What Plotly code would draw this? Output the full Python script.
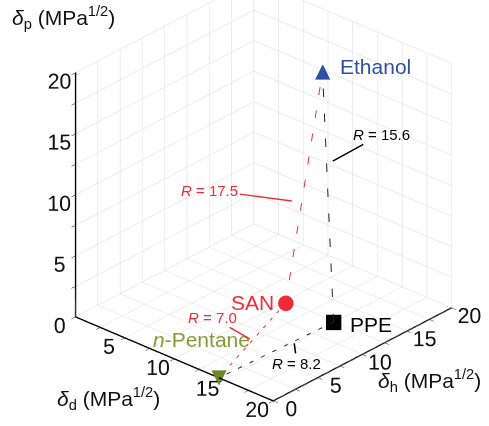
import plotly.graph_objects as go

# Hansen solubility parameters (MPa^1/2): x = delta_d, y = delta_h, z = delta_p
names = ["Ethanol", "SAN", "PPE", "n-Pentane"]
delta_d = [12.9, 13.5, 16.9, 14.5]
delta_h = [13.4, 8.6, 10.2, 0.0]
delta_p = [19.4, 2.5, 1.5, 0.0]

pairs = [("SAN", "Ethanol"), ("SAN", "n-Pentane"), ("PPE", "Ethanol"), ("PPE", "n-Pentane")]
r_values = ["17.5", "7.0", "15.6", "8.2"]

tick_vals = [0, 2.5, 5, 7.5, 10, 12.5, 15, 17.5, 20]
tick_text = ["0", "", "5", "", "10", "", "15", "", "20"]

blue = "#2f4fa5"
red = "#ef2b36"
olive = "#6b8a26"
olive_txt = "#879a36"
FONT = "Liberation Sans, Arial, Helvetica"

idx = {n: i for i, n in enumerate(names)}

fig = go.Figure()
line_colors = [red, red, "#222222", "#222222"]
for (a, b), col in zip(pairs, line_colors):
    ia, ib = idx[a], idx[b]
    fig.add_trace(go.Scatter3d(
        x=[delta_d[ia], delta_d[ib]], y=[delta_h[ia], delta_h[ib]], z=[delta_p[ia], delta_p[ib]],
        mode="lines", line=dict(color=col, width=2, dash="longdash"), showlegend=False, hoverinfo="skip"))

# markers (triangles are not available in 3D -> use glyphs)
i = idx["SAN"]
fig.add_trace(go.Scatter3d(x=[delta_d[i]], y=[delta_h[i]], z=[delta_p[i]], mode="markers",
                           marker=dict(symbol="circle", size=9, color=red, line=dict(width=0))))
i = idx["PPE"]
fig.add_trace(go.Scatter3d(x=[delta_d[i]], y=[delta_h[i]], z=[delta_p[i]], mode="markers",
                           marker=dict(symbol="square", size=8, color="black", line=dict(width=0))))
i = idx["Ethanol"]
fig.add_trace(go.Scatter3d(x=[delta_d[i]], y=[delta_h[i]], z=[delta_p[i]], mode="text", text=["▲"],
                           textposition="middle center",
                           textfont=dict(size=20, color=blue, family="DejaVu Sans")))
i = idx["n-Pentane"]
fig.add_trace(go.Scatter3d(x=[delta_d[i]], y=[delta_h[i]], z=[delta_p[i]], mode="text", text=["▼"],
                           textposition="middle center",
                           textfont=dict(size=20, color=olive, family="DejaVu Sans")))

# scene annotations: point names
scene_ann = []
label_specs = {
    "Ethanol": dict(text="Ethanol", color=blue, xanchor="left", xshift=15, yshift=5),
    "SAN": dict(text="SAN", color=red, xanchor="right", xshift=-10, yshift=1),
    "PPE": dict(text="PPE", color="black", xanchor="left", xshift=14, yshift=-2),
    "n-Pentane": dict(text="<i>n</i>-Pentane", color=olive_txt, xanchor="right", xshift=33, yshift=38),
}
for n, s in label_specs.items():
    i = idx[n]
    scene_ann.append(dict(x=delta_d[i], y=delta_h[i], z=delta_p[i], text=s["text"], showarrow=False,
                          xanchor=s["xanchor"], yanchor="middle", xshift=s["xshift"], yshift=s["yshift"],
                          font=dict(family=FONT, size=21, color=s["color"])))

# R labels with leader lines, anchored at a fraction along each connecting line
r_specs = [  # fraction from first point, ax, ay, standoff, colour
    (0.436, -92, -12, 10, red),
    (0.5, -40, -23, 3, red),
    (0.63, 55, -30, 7, "black"),
    (0.345, 3, 22, 2, "black"),
]
for (a, b), rv, (t, ax, ay, so, col) in zip(pairs, r_values, r_specs):
    ia, ib = idx[a], idx[b]
    px = delta_d[ia] + t * (delta_d[ib] - delta_d[ia])
    py = delta_h[ia] + t * (delta_h[ib] - delta_h[ia])
    pz = delta_p[ia] + t * (delta_p[ib] - delta_p[ia])
    scene_ann.append(dict(x=px, y=py, z=pz, text=f"<i>R</i> = {rv}", showarrow=True, arrowhead=0,
                          arrowwidth=1.5, arrowcolor=col, ax=ax, ay=ay, standoff=so,
                          font=dict(family=FONT, size=15, color=col)))

axis_common = dict(
    range=[0, 20], tickvals=tick_vals, ticktext=tick_text, autorange=False,
    showbackground=True, backgroundcolor="white", gridcolor="#d8d8d8", gridwidth=1,
    showline=True, linecolor="black", linewidth=3, ticks="outside", ticklen=6, tickangle=0,
    tickcolor="black", tickfont=dict(family=FONT, size=16, color="#111"),
    title=dict(text=""), showspikes=False, zeroline=False)

d = 1.6
fig.update_layout(
    width=489, height=426, margin=dict(l=0, r=0, t=0, b=0),
    paper_bgcolor="white", showlegend=False,
    scene=dict(
        xaxis=axis_common, yaxis=axis_common, zaxis=axis_common,
        aspectmode="manual", aspectratio=dict(x=1.25, y=1.25, z=1.3),
        camera=dict(eye=dict(x=0.568 * d, y=-0.713 * d, z=0.41 * d), up=dict(x=0, y=0, z=1),
                    center=dict(x=-0.07, y=-0.056, z=-0.124), projection=dict(type="orthographic")),
        domain=dict(x=[0, 1], y=[0, 1]),
        annotations=scene_ann,
    ),
    annotations=[
        dict(xref="paper", yref="paper", x=10 / 489, y=1 - 17 / 426, xanchor="left", yanchor="middle",
             text="<i>δ</i><sub>p</sub> (MPa<sup>1/2</sup>)", showarrow=False,
             font=dict(family=FONT, size=21, color="#111")),
        dict(xref="paper", yref="paper", x=55 / 489, y=1 - 398 / 426, xanchor="left", yanchor="middle",
             text="<i>δ</i><sub>d</sub> (MPa<sup>1/2</sup>)", showarrow=False,
             font=dict(family=FONT, size=21, color="#111")),
        dict(xref="paper", yref="paper", x=376 / 489, y=1 - 380 / 426, xanchor="left", yanchor="middle",
             text="<i>δ</i><sub>h</sub> (MPa<sup>1/2</sup>)", showarrow=False,
             font=dict(family=FONT, size=21, color="#111")),
    ],
)

fig.write_html("out.html")
